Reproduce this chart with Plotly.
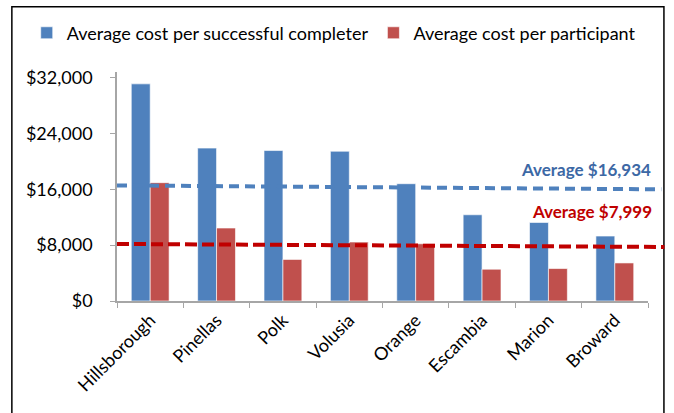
import plotly.graph_objects as go

counties = ["Hillsborough", "Pinellas", "Polk", "Volusia", "Orange", "Escambia", "Marion", "Broward"]
cost_completer = [31100, 21900, 21550, 21450, 16800, 12350, 11250, 9300]
cost_participant = [16950, 10450, 5950, 8450, 8200, 4550, 4650, 5450]
avg_completer = 16934
avg_participant = 7999
# dashed average lines as drawn (slightly sloped), start/end values
avg_completer_line = [16560, 15990]
avg_participant_line = [8170, 7740]
y_ticks = [0, 8000, 16000, 24000, 32000]

FONT = "Lato"
BLUE = "#4f81bd"
RED = "#c0504d"

fig = go.Figure()
fig.add_trace(go.Bar(x=counties, y=cost_completer, name="Average cost per successful completer",
                     marker=dict(color=BLUE, line=dict(color="rgba(255,255,255,0.6)", width=1))))
fig.add_trace(go.Bar(x=counties, y=cost_participant, name="Average cost per participant",
                     marker=dict(color=RED, line=dict(color="rgba(255,255,255,0.6)", width=1))))

shapes = [
    dict(type="rect", xref="paper", yref="paper", x0=-0.198, x1=1.030, y0=-0.6, y1=1.285,
         line=dict(color="black", width=1.5), fillcolor="rgba(0,0,0,0)", layer="below"),
    dict(type="line", xref="paper", yref="y", x0=0, x1=1.025,
         y0=avg_completer_line[0], y1=avg_completer_line[1],
         line=dict(color=BLUE, width=4, dash="10px,6px")),
    dict(type="line", xref="paper", yref="y", x0=0, x1=1.031,
         y0=avg_participant_line[0], y1=avg_participant_line[1],
         line=dict(color="#c00000", width=4, dash="12px,5px")),
]

annotations = [
    dict(xref="paper", yref="paper", x=1.009, y=0.575, xanchor="right", yanchor="middle",
         text=f"<b>Average ${avg_completer:,}</b>", showarrow=False,
         font=dict(family=FONT, size=17, color="#3c68a5")),
    dict(xref="paper", yref="paper", x=1.012, y=0.389, xanchor="right", yanchor="middle",
         text=f"<b>Average ${avg_participant:,}</b>", showarrow=False,
         font=dict(family=FONT, size=17, color="#c00000")),
]

fig.update_layout(
    width=674, height=413,
    margin=dict(l=117, r=26, t=72, b=112),
    paper_bgcolor="white", plot_bgcolor="white",
    font=dict(family=FONT, size=18, color="black"),
    barmode="group", bargap=0.43, bargroupgap=0,
    shapes=shapes, annotations=annotations,
    legend=dict(orientation="h", x=-0.17, xanchor="left", y=1.17, yanchor="middle",
                bgcolor="rgba(0,0,0,0)",
                font=dict(family=FONT, size=18), itemwidth=30, traceorder="normal"),
    xaxis=dict(showline=True, linecolor="#a6a6a6", linewidth=1.5, ticks="outside",
               tickson="boundaries", ticklen=5, tickcolor="#a6a6a6", tickangle=-45,
               showgrid=False, tickfont=dict(family=FONT, size=18)),
    yaxis=dict(range=[0, 32800], tickvals=y_ticks, tickformat="$,.0f", showline=True,
               linecolor="#a6a6a6", linewidth=1.5, ticks="outside", ticklen=5,
               tickcolor="#a6a6a6", showgrid=False, zeroline=False,
               ticklabelstandoff=14, tickfont=dict(family=FONT, size=18)),
)

fig.write_html("out.html")
